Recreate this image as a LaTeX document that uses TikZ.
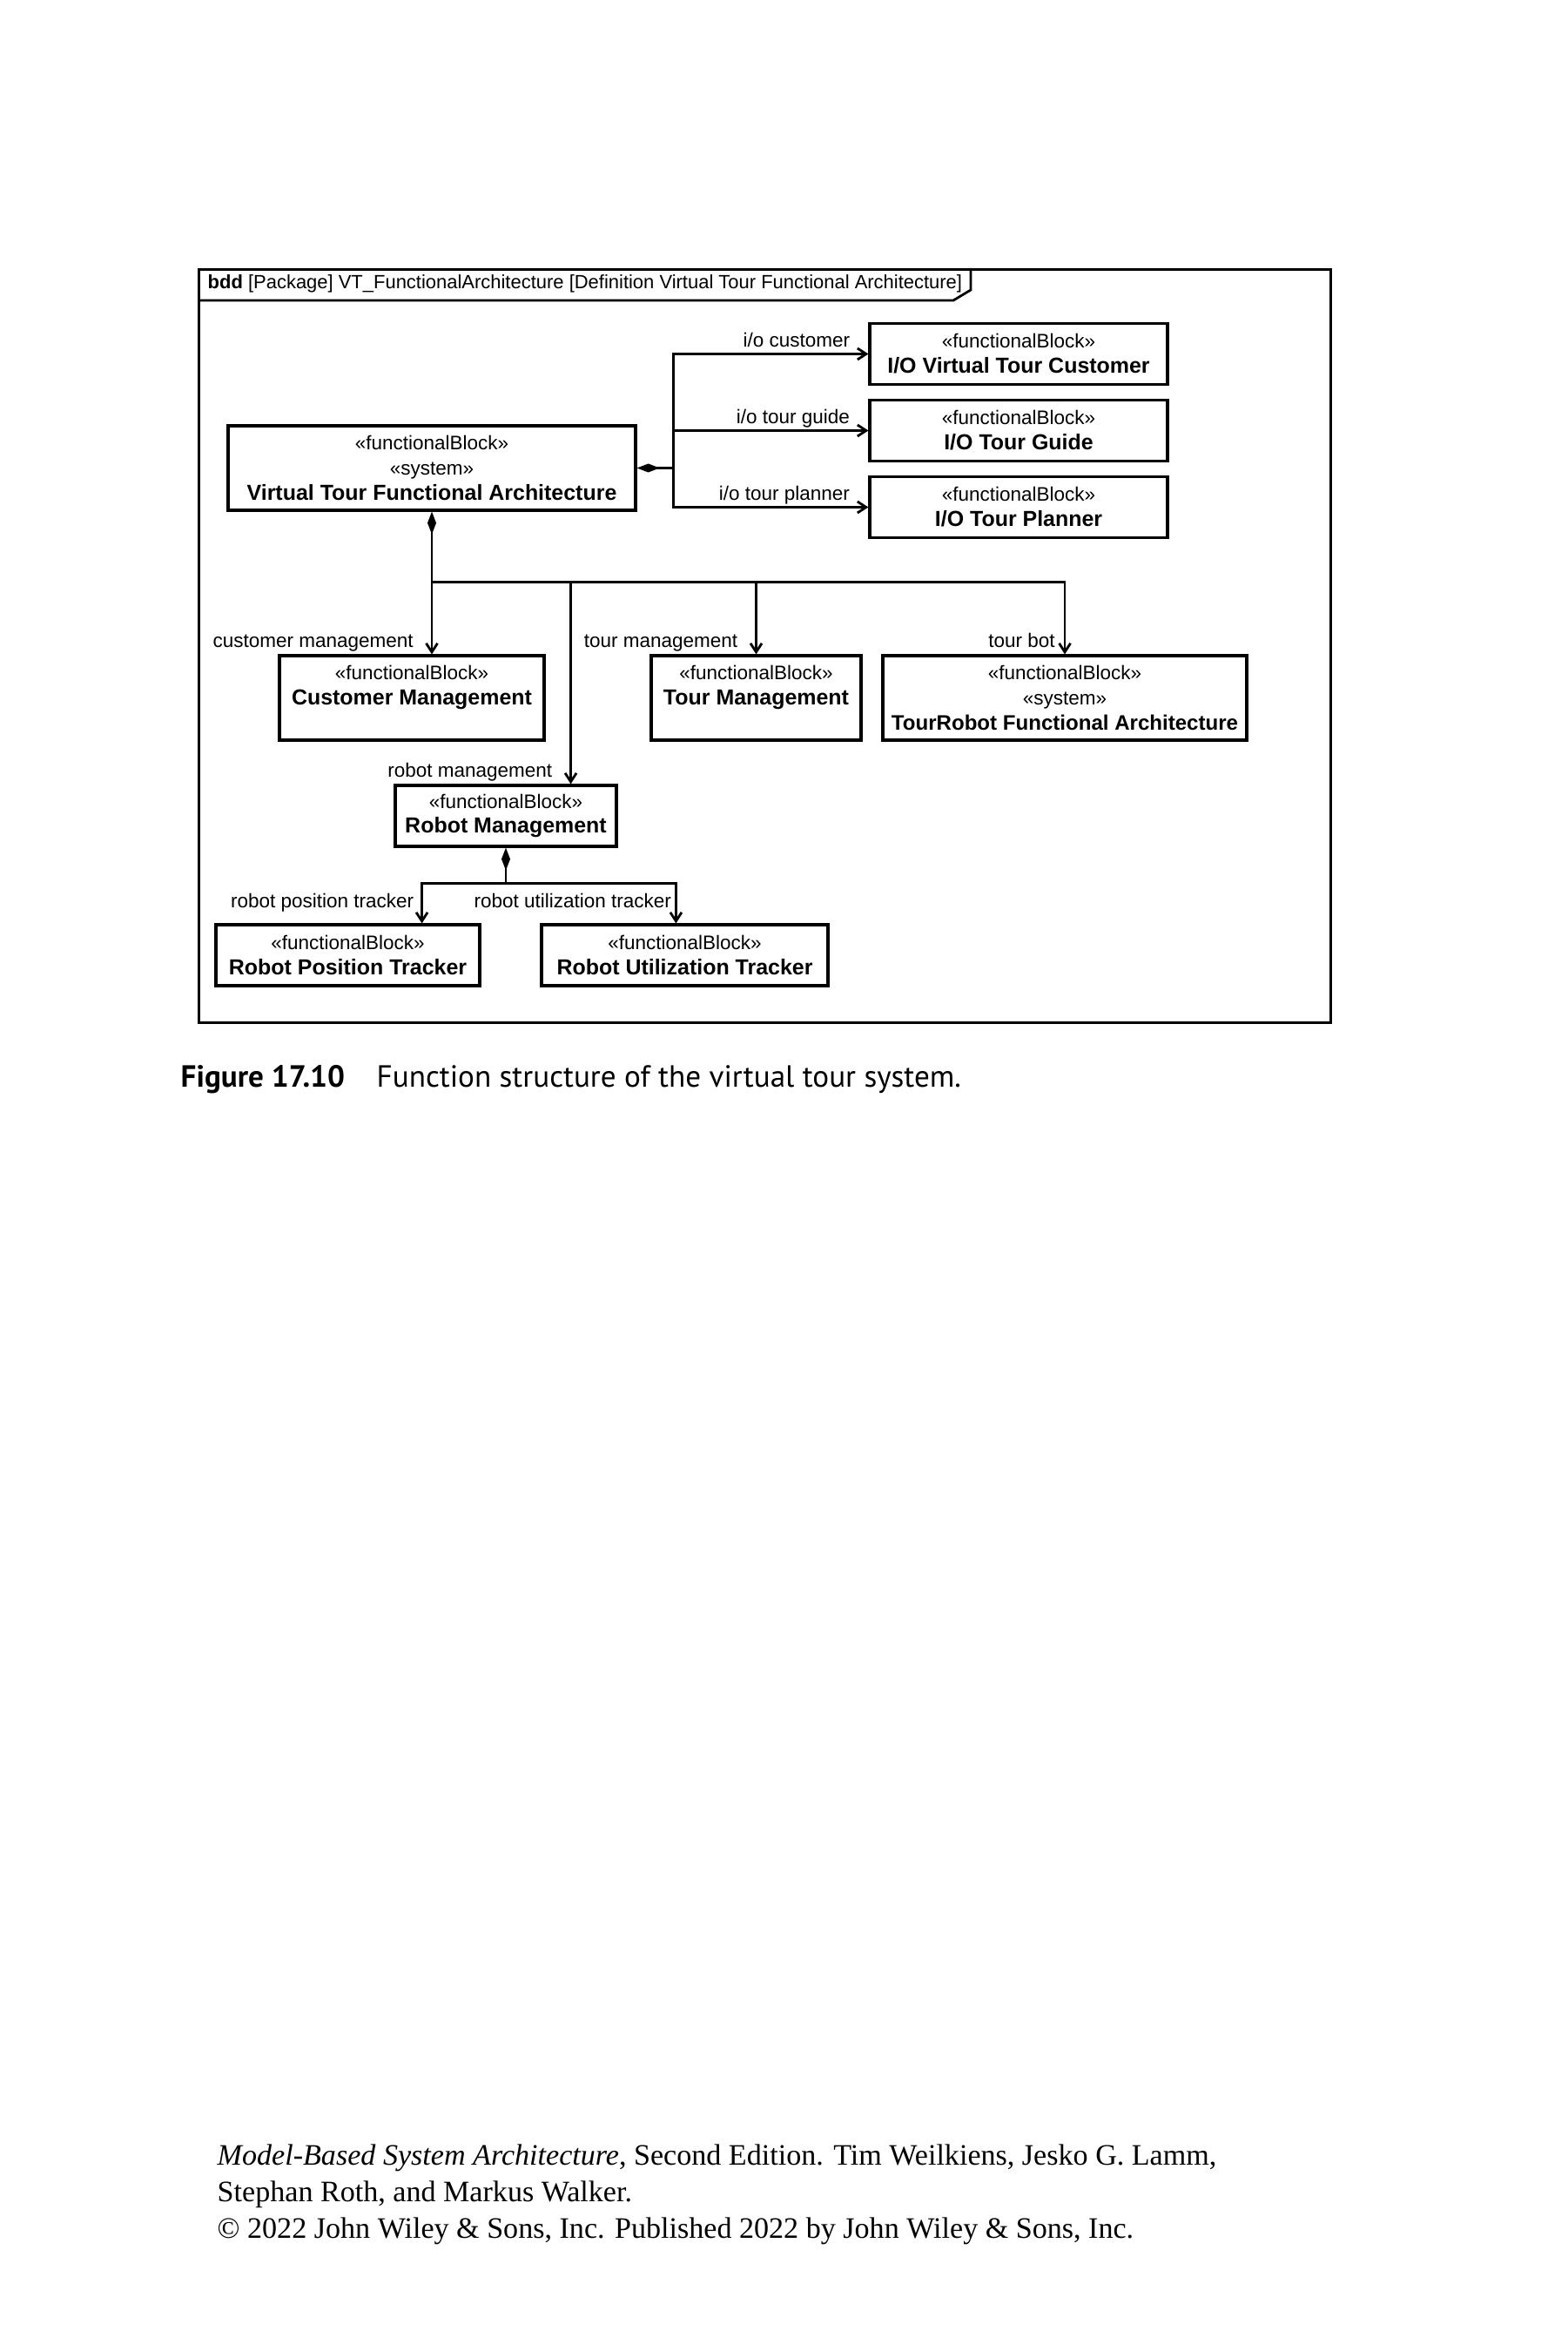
\documentclass[tikz,border=0pt]{standalone}
\usepackage{fontspec}
\setmainfont{Liberation Sans}
\newfontfamily\capfont{PT Sans}
\newfontfamily\bookfont{Liberation Serif}
\usetikzlibrary{positioning, calc, arrows.meta}
\newcommand{\stereo}{\fontsize{6.4}{8.2}\selectfont}
\newcommand{\bname}[1]{{\fontsize{7.1}{8.2}\selectfont\bfseries #1}}
\tikzset{
    block/.style={draw, line width=0.9pt, minimum width=#1, minimum height=7mm, align=center, inner sep=0pt, font=\stereo},
    tallblock/.style={block=#1, minimum height=9.7mm},
    part/.style={-{Straight Barb[length=1mm, width=1.3mm]}, line width=0.8pt},
    owner/.style={{Diamond[length=2.6mm, width=1mm]}-, line width=0.8pt},
    role/.style={anchor=base east, font=\stereo, inner sep=0pt, xshift=-2mm, yshift=0.8mm},
}

\begin{document}
\begin{tikzpicture}
        \useasboundingbox (0,0) rectangle (180mm,-270mm);
        % Frame
        \node (frame) [draw, line width=0.8pt, minimum width=130mm, minimum height=86.5mm, inner sep=0pt, anchor=north west] at (22.7mm,-30.8mm) {};
        \draw[line width=0.8pt] ($(frame.north west)+(0,-3.7mm)$) -- ++(86.8mm,0) -- ++(2mm,1.2mm) -- ++(0,2.5mm);
        \node (header) [anchor=west, font=\fontsize{6.25}{8}\selectfont, inner sep=0pt] at ($(frame.north west)+(1.1mm,-1.75mm)$) {\textbf{bdd} [Package] VT\_FunctionalArchitecture [Definition Virtual Tour Functional Architecture]};
        % Blocks
        \node (sys) [tallblock=46.8mm] at (49.6mm,-53.75mm) {«functionalBlock»\\«system»\\\bname{Virtual Tour Functional Architecture}};
        \node (io1) [block=34.2mm] at ($(sys.center) + (67.4mm, 13.1mm)$) {«functionalBlock»\\\bname{I/O Virtual Tour Customer}};
        \node (io2) [block=34.2mm] at ($(sys.center) + (67.4mm, 4.3mm)$) {«functionalBlock»\\\bname{I/O Tour Guide}};
        \node (io3) [block=34.2mm] at ($(sys.center) + (67.4mm, -4.5mm)$) {«functionalBlock»\\\bname{I/O Tour Planner}};
        \node (cm) [tallblock=30.4mm] at ($(sys.center) + (-2.3mm, -26.4mm)$) {«functionalBlock»\\\bname{Customer Management}\\\mbox{}};
        \node (tm) [tallblock=24.1mm] at ($(sys.center) + (37.25mm, -26.4mm)$) {«functionalBlock»\\\bname{Tour Management}\\\mbox{}};
        \node (tr) [tallblock=41.8mm] at ($(sys.center) + (72.7mm, -26.4mm)$) {«functionalBlock»\\«system»\\{\fontsize{6.85}{8.2}\selectfont\bfseries TourRobot Functional Architecture}};
        \node (rm) [block=25.4mm] at ($(sys.center) + (8.5mm, -39.95mm)$) {«functionalBlock»\\\bname{Robot Management}};
        \node (rpt) [block=30.3mm] at ($(rm.center) + (-18.15mm, -16mm)$) {«functionalBlock»\\\bname{Robot Position Tracker}};
        \node (rut) [block=32.9mm] at ($(rm.center) + (20.55mm, -16mm)$) {«functionalBlock»\\\bname{Robot Utilization Tracker}};
        % Composition to I/O blocks
        \draw[owner] (sys.east) -- ++(4.2mm,0) coordinate (iojoint);
        \draw[part] (iojoint) |- node[role, pos=1] {i/o customer} (io1.west);
        \draw[part] (iojoint) |- node[role, pos=1] {i/o tour guide} (io2.west);
        \draw[part] (iojoint) |- node[role, pos=1] {i/o tour planner} (io3.west);
        % Composition to management blocks
        \draw[owner] (sys.south) -- ++(0,-8.1mm) coordinate (bus);
        \coordinate (rmin) at ($(rm.north east) + (-5.4mm, 0)$);
        \draw[part] (bus) -- node[role, pos=1] {customer management} (bus |- cm.north);
        \draw[part] (bus) -| node[role, pos=1] {robot management} (rmin);
        \draw[part] (bus) -| node[role, pos=1] {tour management} (tm.north);
        \draw[part] (bus) -| node[role, pos=1, xshift=1mm] {tour bot} (tr.north);
        % Composition of robot management
        \draw[owner] (rm.south) -- ++(0,-4.1mm) coordinate (rmjoint);
        \coordinate (rptin) at ($(rpt.north east) + (-6.8mm, 0)$);
        \coordinate (rutin) at ($(rut.north west) + (15.6mm, 0)$);
        \draw[part] (rmjoint) -| node[role, pos=1, xshift=1.2mm, yshift=1mm] {robot position tracker} (rptin);
        \draw[part] (rmjoint) -| node[role, pos=1, xshift=1.6mm, yshift=1mm] {robot utilization tracker} (rutin);

        % Caption
        \node (figno) [anchor=base west, inner sep=0pt, font=\capfont\fontsize{10}{12}\selectfont\bfseries] at (20.7mm,-124.8mm) {Figure 17.10};
        \node (figtext) [anchor=base west, inner sep=0pt, font=\capfont\fontsize{10}{12}\selectfont] at ($(figno.base west) + (22.5mm, 0)$) {Function structure of the virtual tour system.};
        % Credits
        \node (cred1) [anchor=base west, inner sep=0pt, font=\bookfont\fontsize{9.7}{12}\selectfont] at (24.9mm,-248.6mm) {\textit{Model-Based System Architecture}, Second Edition. Tim Weilkiens, Jesko G. Lamm,};
        \node (cred2) [anchor=base west, inner sep=0pt, font=\bookfont\fontsize{9.7}{12}\selectfont] at ($(cred1.base west) + (0, -4.2mm)$) {Stephan Roth, and Markus Walker.};
        \node (cred3) [anchor=base west, inner sep=0pt, font=\bookfont\fontsize{9.7}{12}\selectfont] at ($(cred2.base west) + (0, -4.2mm)$) {© 2022 John Wiley \& Sons, Inc. Published 2022 by John Wiley \& Sons, Inc.};
    \end{tikzpicture}
\end{document}
